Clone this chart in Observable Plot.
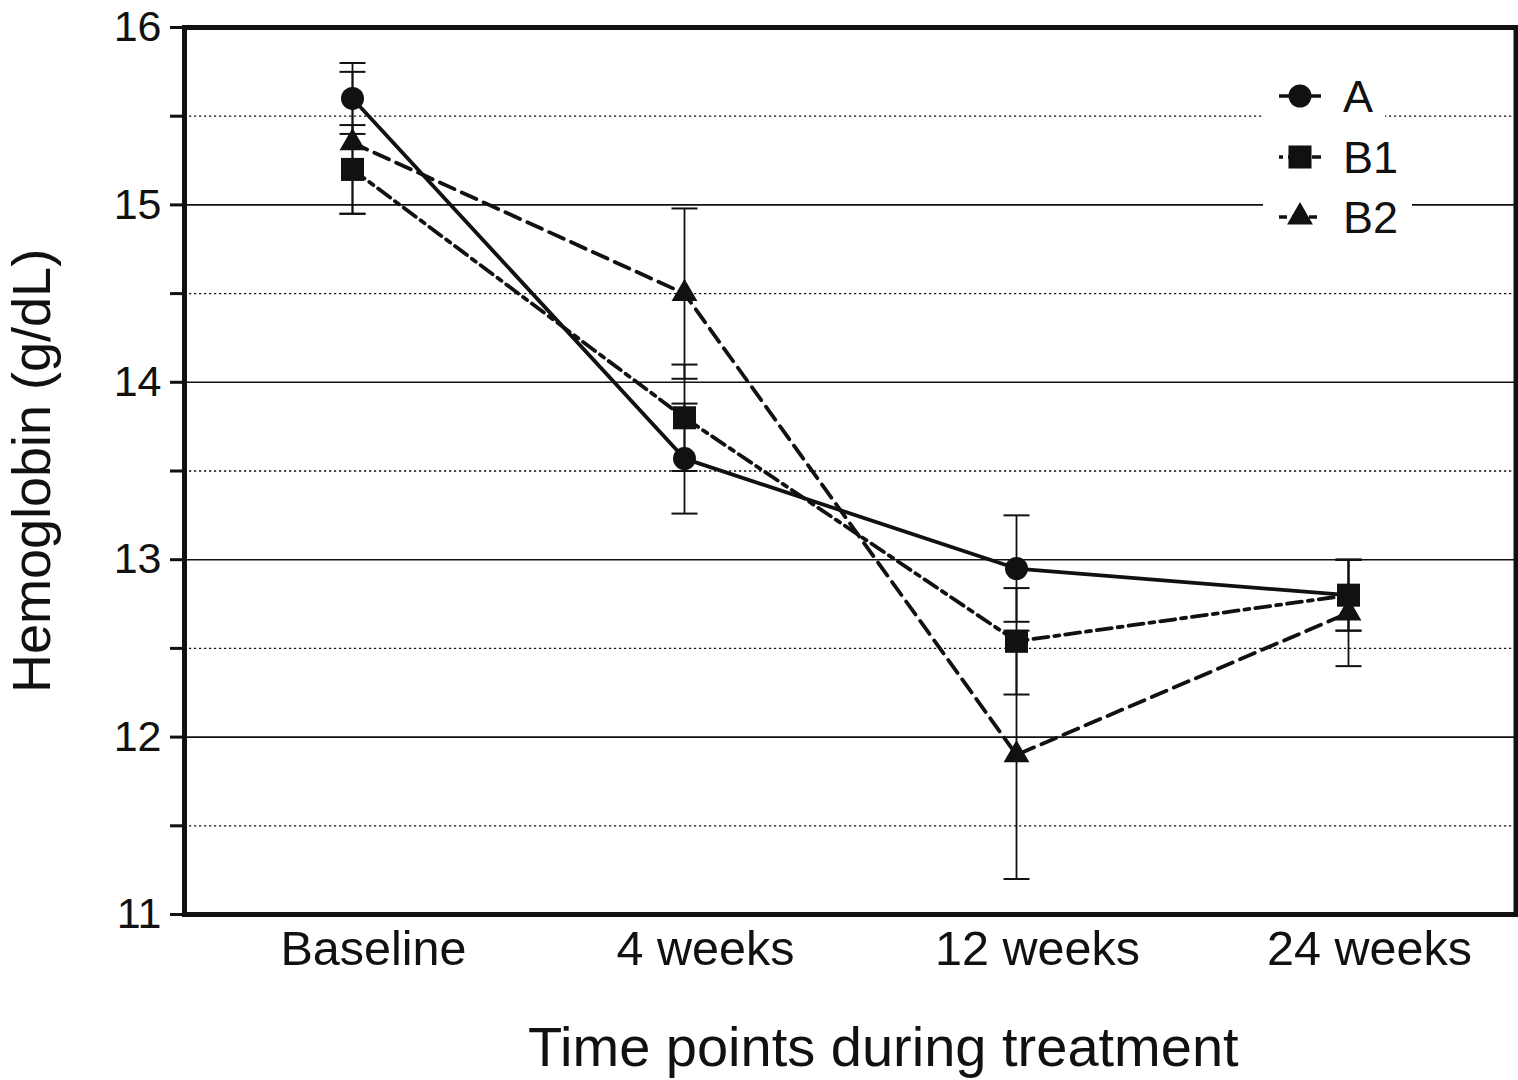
<!DOCTYPE html>
<html>
<head>
<meta charset="utf-8">
<script src="https://cdn.jsdelivr.net/npm/d3@7"></script>
<script src="https://cdn.jsdelivr.net/npm/@observablehq/plot@0.6"></script>
<style>
  html, body { margin: 0; padding: 0; background: #fff; }
  #wrap { position: relative; width: 1518px; height: 1080px; }
  #legend { position: absolute; left: 0; top: 0; }
</style>
</head>
<body>
<div id="wrap"></div>
<script>
const timepoints = ["Baseline", "4 weeks", "12 weeks", "24 weeks"];
const seriesNames = ["A", "B1", "B2"];
const meanA = [15.6, 13.57, 12.95, 12.8];
const errA = [0.2, 0.31, 0.3, 0.2];
const meanB1 = [15.2, 13.8, 12.54, 12.8];
const errB1 = [0.25, 0.3, 0.3, 0.2];
const meanB2 = [15.35, 14.5, 11.9, 12.7];
const errB2 = [0.4, 0.48, 0.7, 0.3];
const majorTicks = [11, 12, 13, 14, 15, 16];
const minorTicks = [11.5, 12.5, 13.5, 14.5, 15.5];
const yLabel = "Hemoglobin (g/dL)";
const xLabel = "Time points during treatment";

const styles = {
  A:  {dash: null, symbol: "circle", r: 11.5},
  B1: {dash: "15,6,5,6", symbol: "square", r: 13},
  B2: {dash: "16,8", symbol: "triangle", r: 9.6}
};
const means = {A: meanA, B1: meanB1, B2: meanB2};
const errs = {A: errA, B1: errB1, B2: errB2};

const rows = seriesNames.flatMap(s => timepoints.map((t, i) => ({
  series: s, time: t, value: means[s][i],
  lo: means[s][i] - errs[s][i], hi: means[s][i] + errs[s][i]
})));

const capSymbol = { draw(ctx) { ctx.moveTo(-13, 0); ctx.lineTo(13, 0); } };

const marks = [
  Plot.ruleY(minorTicks, {stroke: "#111", strokeWidth: 1.3, strokeDasharray: "2.2,2.8"}),
  Plot.ruleY(majorTicks, {stroke: "#111", strokeWidth: 1.6}),
  Plot.axisY(majorTicks, {tickSize: 14, tickPadding: 9, fontSize: 43, strokeWidth: 3, tickFormat: d => String(d), label: null, fill: "#111"}),
  Plot.axisY(minorTicks, {tickSize: 14, strokeWidth: 3, tickFormat: () => "", label: null}),
  Plot.axisX({tickSize: 0, tickPadding: 16, fontSize: 48.5, dx: 21, label: null, fill: "#111"}),
  Plot.text([yLabel], {frameAnchor: "left", textAnchor: "middle", dx: -152, rotate: -90, fontSize: 54, fill: "#111"}),
  Plot.text([xLabel], {frameAnchor: "bottom", textAnchor: "middle", dx: 33, dy: 151, fontSize: 56, fill: "#111"}),
  Plot.ruleX(rows, {x: "time", y1: "lo", y2: "hi", stroke: "#111", strokeWidth: 1.8}),
  Plot.dot(rows, {x: "time", y: "lo", symbol: capSymbol, stroke: "#111", strokeWidth: 2, fill: "none"}),
  Plot.dot(rows, {x: "time", y: "hi", symbol: capSymbol, stroke: "#111", strokeWidth: 2, fill: "none"}),
];
for (const s of seriesNames) {
  const data = rows.filter(d => d.series === s);
  marks.push(Plot.line(data, {x: "time", y: "value", stroke: "#111", strokeWidth: 3.8,
    strokeDasharray: styles[s].dash || undefined}));
}
for (const s of seriesNames) {
  const data = rows.filter(d => d.series === s);
  marks.push(Plot.dot(data, {x: "time", y: "value", symbol: styles[s].symbol, r: styles[s].r, fill: "#111", stroke: "none"}));
}
marks.push(Plot.frame({stroke: "#111", strokeWidth: 5}));

const chart = Plot.plot({
  width: 1518, height: 1080,
  marginLeft: 184, marginRight: 2.5, marginTop: 27, marginBottom: 166,
  style: {fontFamily: "'Liberation Sans', Arial, Helvetica, sans-serif", background: "#fff", color: "#111"},
  x: {type: "point", domain: timepoints, padding: 0.5},
  y: {domain: [11, 16]},
  marks
});
document.getElementById("wrap").appendChild(chart);

// Legend overlay (top-right inside the plot frame)
const legend = d3.select("#wrap").append("svg")
  .attr("id", "legend").attr("width", 1518).attr("height", 300)
  .style("font-family", "'Liberation Sans', Arial, Helvetica, sans-serif");
const legendRows = [
  {name: "A", cy: 96, bgW: 122},
  {name: "B1", cy: 157, bgW: 140},
  {name: "B2", cy: 217, bgW: 149}
];
const lx = 1263;
legendRows.forEach((row) => {
  const g = legend.append("g");
  g.append("rect").attr("x", lx).attr("y", row.cy - 30).attr("width", row.bgW).attr("height", 60).attr("fill", "#fff");
  const st = styles[row.name];
  g.append("line").attr("x1", 1279).attr("x2", 1321).attr("y1", row.cy).attr("y2", row.cy)
    .attr("stroke", "#111").attr("stroke-width", 3.6)
    .attr("stroke-dasharray", row.name === "A" ? null : (row.name === "B1" ? "4,5,10,5" : "8,5,12,5"));
  const sym = d3.symbol().type(st.symbol === "circle" ? d3.symbolCircle : st.symbol === "square" ? d3.symbolSquare : d3.symbolTriangle)
    .size(Math.PI * st.r * st.r);
  g.append("path").attr("d", sym()).attr("transform", `translate(1300,${row.cy})`).attr("fill", "#111");
  g.append("text").attr("x", 1343).attr("y", row.cy + 16).attr("font-size", 45).attr("fill", "#111").text(row.name);
});
</script>
</body>
</html>
